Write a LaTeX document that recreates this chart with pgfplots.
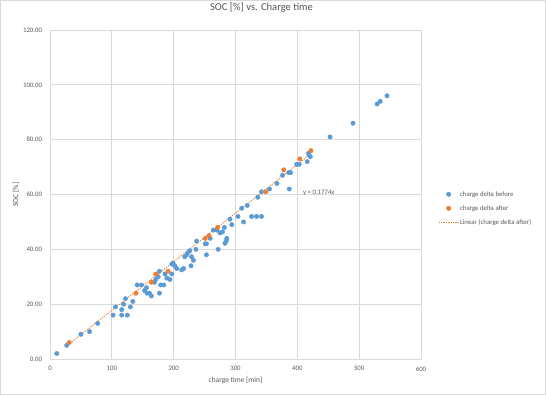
\documentclass[border=0pt]{standalone}
\usepackage{fontspec}
\setmainfont{Carlito}
\usepackage{pgfplots}
\pgfplotsset{compat=1.18}
\definecolor{xblue}{HTML}{5B9BD5}
\definecolor{xorange}{HTML}{ED7D31}
\definecolor{xgrid}{HTML}{D9D9D9}
\definecolor{xtext}{HTML}{595959}
\begin{document}
\begin{tikzpicture}
\useasboundingbox (0,0) rectangle (546bp,395bp);
\fill[white] (0,0) rectangle (546bp,395bp);
\draw[xgrid, line width=0.75bp] (0.5bp,0.5bp) rectangle (545.5bp,394.5bp);
\begin{axis}[
  at={(50bp,36bp)}, anchor=south west, scale only axis,
  width=371bp, height=329bp,
  xmin=0, xmax=600, ymin=0, ymax=120,
  xtick={0,100,...,600}, ytick={0,20,...,120},
  grid=major, major grid style={xgrid, line width=0.75bp},
  axis line style={xgrid, line width=0.75bp},
  major tick length=0pt,
  /pgf/number format/assume math mode=true,
  tick label style={font=\fontsize{6.8}{8}\selectfont, text=xtext},
  y tick label style={/pgf/number format/fixed, /pgf/number format/fixed zerofill, /pgf/number format/precision=2, xshift=-4.5bp},
  x tick label style={yshift=-4bp},
  title={SOC [\%] vs. Charge time},
  title style={at={(axis description cs:0.570,1.0486)}, anchor=center, font=\fontsize{10.6}{12}\selectfont, text=xtext},
  xlabel={charge time [min]},
  xlabel style={at={(axis description cs:0.5,-0.0638)}, anchor=center, font=\fontsize{7.5}{9}\selectfont, text=xtext},
  ylabel={SOC [\%]},
  ylabel style={at={(axis description cs:-0.0916,0.5)}, anchor=center, font=\fontsize{7.5}{9}\selectfont, text=xtext},
  legend image code/.code={\draw[mark repeat=2,mark phase=2,#1] plot coordinates {(0bp,0bp) (10bp,0bp) (20bp,0bp)};},
  legend style={at={(axis description cs:1.0458,0.458)}, anchor=west, draw=none, fill=none,
    inner sep=0pt, row sep=5.5bp, font=\fontsize{6.8}{8}\selectfont, text=xtext,
    nodes={inner sep=1bp, text height=5bp, text depth=1.5bp}},
  legend cell align=left,
]
\addplot[only marks, mark=*, mark size=2.2bp, color=xblue, mark options={draw=xblue, fill=xblue}] coordinates {
(11,2) (27,5) (50,9) (64,10) (77,13) (102,16) (106,19) (116,16) (116,18) (119,20)
(122,22) (125,16) (130,19) (134,21) (141,27) (148,27) (153,25) (156,26) (157,24) (161,24)
(164,23) (169,28) (171,29) (175,30) (177,32) (177,24) (179,27) (184,27) (186,31) (189,29.5)
(194,29) (197,31) (197,34.6) (199,35) (202,34) (205,33) (213,32.5) (216,33) (218,37.3) (221,38)
(224,39) (226,39.5) (228,34) (229,37.3) (232,36) (236,40) (237,43) (251,42) (253,42) (253,38)
(259,44) (264,47) (270,47) (272,40) (275,46) (279,46.4) (282,48) (283,42.2) (285,43) (286,44)
(291,51) (294,49) (304,52) (310,55) (313,50) (319,56) (326,52) (334,52) (342,52) (336,59)
(342,61) (355,62) (367,64) (376,67) (387,62) (386,68) (389,68) (399,71) (403,71) (416,72)
(418,75) (419,74.4) (421,73.8) (453,81) (490,86) (529,93) (534,94) (545,96)
};
\addlegendentry{charge delta before}
\addplot[only marks, mark=*, mark size=2.2bp, color=xorange, mark options={draw=xorange, fill=xorange}] coordinates {
(31,6) (139,24) (164,28) (171,31) (191,32) (251,44) (257,45) (271,48) (349,61) (378,69) (404,73) (422,76)
};
\addlegendentry{charge delta after}
\addplot[draw=xorange, color=xorange, line width=0.9bp, dash pattern=on 1.2bp off 1.2bp] coordinates {(26,4.61) (422,74.86)};
\addlegendentry{Linear (charge delta after)}
\node[anchor=west, font=\fontsize{6.8}{8}\selectfont, text=xtext, inner sep=0pt] at (axis cs:409,60.5) {y = 0.1774x};
\end{axis}
\end{tikzpicture}
\end{document}
